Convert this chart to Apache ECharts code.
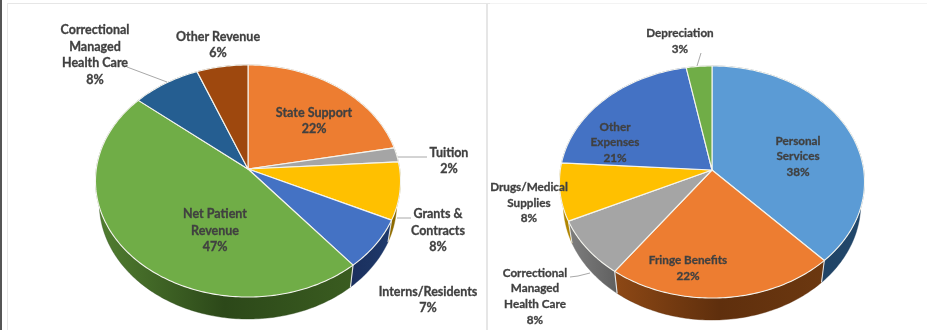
<!DOCTYPE html>
<html>
<head>
<meta charset="utf-8">
<style>html,body{margin:0;padding:0;background:#fff}#chart{width:927px;height:330px}</style>
<script src="https://cdn.jsdelivr.net/npm/echarts@6/dist/echarts.min.js"></script>
</head>
<body>
<div id="chart"></div>
<script>
// Revenue sources (percent of total), clockwise from twelve o'clock
const revenueNames = ['State Support', 'Tuition', 'Grants &\nContracts', 'Interns/Residents', 'Net Patient\nRevenue', 'Correctional\nManaged\nHealth Care', 'Other Revenue'];
const revenueValues = [22, 2, 8, 7, 47, 8, 6];

// Expense categories (percent of total), clockwise from twelve o'clock
const expenseNames = ['Personal\nServices', 'Fringe Benefits', 'Correctional\nManaged\nHealth Care', 'Drugs/Medical\nSupplies', 'Other\nExpenses', 'Depreciation'];
const expenseValues = [38, 22, 8, 8, 21, 3];

const FONT = 'Lato, "Open Sans", sans-serif';

// Tilted disc: radii in the disc plane, perspective strength and wall height
const discShape = { rx: 151.7, ry: 114.8, k: 0.1034, depth: 22, shrink: 0.975 };

function rimPoint(disc, share, lower) {
  const a = share * Math.PI * 2;
  const u = Math.sin(a), v = -Math.cos(a), w = 1 - disc.k * v;
  return [
    disc.cx + disc.rx * u / w * (lower ? disc.shrink : 1),
    disc.cy + disc.ry * v / w + (lower ? disc.depth : 0)
  ];
}

function rimArc(disc, from, to, lower) {
  const n = Math.max(2, Math.ceil((to - from) * 360));
  const pts = [];
  for (let i = 0; i <= n; i++) pts.push(rimPoint(disc, from + (to - from) * i / n, lower));
  return pts;
}

function shareBounds(values) {
  const total = values.reduce((a, b) => a + b, 0);
  let run = 0;
  return values.map(v => { const s = run / total; run += v; return [s, run / total]; });
}

function buildPie(cfg) {
  const disc = Object.assign({}, discShape, cfg.hub);
  const bounds = shareBounds(cfg.values);
  const rows = cfg.values.map(v => [v]);

  const walls = {
    type: 'custom', coordinateSystem: 'none', silent: true, animation: false, z: 2,
    data: rows,
    renderItem(params, api) {
      const [a, b] = bounds[params.dataIndex];
      const up = rimArc(disc, a, b, false);
      const down = rimArc(disc, a, b, true).reverse();
      const xs = up.concat(down).map(p => p[0]);
      const tone = cfg.wallTones[params.dataIndex];
      const fill = {
        type: 'linear', global: true,
        x: Math.min.apply(null, xs), y: 0, x2: Math.max.apply(null, xs), y2: 0,
        colorStops: [{ offset: 0, color: tone[0] }, { offset: 0.5, color: tone[1] }, { offset: 1, color: tone[2] }]
      };
      const edge = [rimPoint(disc, a, false), rimPoint(disc, a, true)];
      return {
        type: 'group',
        children: [
          { type: 'polygon', shape: { points: up.concat(down) }, style: { fill: fill, stroke: tone[1], lineWidth: 0.4 } },
          { type: 'polyline', z2: 10, shape: { points: edge }, style: { fill: 'none', stroke: '#e4e4e4', lineWidth: 1.1 } }
        ]
      };
    }
  };

  const faces = {
    type: 'custom', coordinateSystem: 'none', silent: true, animation: false, z: 3,
    data: rows,
    renderItem(params, api) {
      const [a, b] = bounds[params.dataIndex];
      const pts = [[disc.cx, disc.cy]].concat(rimArc(disc, a, b, false));
      return {
        type: 'polygon',
        shape: { points: pts },
        style: { fill: cfg.colors[params.dataIndex], stroke: '#f4f4ee', lineWidth: 1.1, lineJoin: 'round' }
      };
    }
  };

  const labels = {
    type: 'custom', coordinateSystem: 'none', silent: true, animation: false, z: 5,
    data: rows,
    renderItem(params, api) {
      const i = params.dataIndex;
      const spot = cfg.labelSpots[i];
      const children = [];
      if (cfg.leaders[i]) {
        children.push({
          type: 'polyline',
          shape: { points: cfg.leaders[i] },
          style: { fill: 'none', stroke: '#a8a8a8', lineWidth: 1 }
        });
      }
      children.push({
        type: 'text',
        style: {
          x: spot[0], y: spot[1],
          text: cfg.names[i] + '\n' + api.value(0) + '%',
          textAlign: 'center', textVerticalAlign: 'middle',
          font: 'bold ' + cfg.fontSize + 'px ' + FONT,
          lineHeight: cfg.lineHeight,
          fill: '#404040',
          stroke: '#404040',
          lineWidth: 0.3
        }
      });
      return { type: 'group', children: children };
    }
  };

  return [walls, faces, labels];
}

const revenuePie = buildPie({
  hub: { cx: 248, cy: 169 },
  names: revenueNames,
  values: revenueValues,
  colors: ['#ED7D31', '#A5A5A5', '#FFC000', '#4472C4', '#70AD47', '#255E91', '#9E480E'],
  wallTones: [
    ['#8a4a1d', '#8a4a1d', '#8a4a1d'], ['#6b6b6b', '#6b6b6b', '#6b6b6b'],
    ['#9a7400', '#8a6800', '#7a5c00'], ['#1a2f5e', '#1c3463', '#1f3a6e'],
    ['#527f31', '#2c4819', '#3a5c20'], ['#16385a', '#16385a', '#16385a'],
    ['#5f2b08', '#5f2b08', '#5f2b08']
  ],
  labelSpots: [[314, 121], [449, 161], [438, 230.5], [428, 300], [215, 230.5], [95, 55], [218, 45]],
  leaders: [null, [[398, 157], [427, 157]], [[397, 218], [411, 218]], null, null, [[127, 67], [167, 82]], null],
  fontSize: 12.5,
  lineHeight: 16.5
});

const expensePie = buildPie({
  hub: { cx: 712, cy: 170 },
  names: expenseNames,
  values: expenseValues,
  colors: ['#5B9BD5', '#ED7D31', '#A5A5A5', '#FFC000', '#4472C4', '#70AD47'],
  wallTones: [
    ['#1f3a56', '#1f3f5f', '#22486c'], ['#8d4815', '#5f2f0d', '#6c3810'],
    ['#7e7e7e', '#6f6f6f', '#606060'], ['#b08500', '#b08500', '#b08500'],
    ['#2a4476', '#2a4476', '#2a4476'], ['#43682b', '#43682b', '#43682b']
  ],
  labelSpots: [[798, 156.5], [688, 268.5], [535, 296.5], [529, 203], [615, 142.5], [680, 41]],
  leaders: [null, null, [[570, 277], [578, 276], [590, 273]], null, null, [[697, 66], [701, 53]]],
  fontSize: 11.7,
  lineHeight: 15.6
});

// Thin page frame around the two chart panels
const frame = [
  { type: 'rect', shape: { x: 0, y: 0, width: 2, height: 330 }, style: { fill: '#555555' } },
  { type: 'rect', shape: { x: 7, y: 3, width: 483, height: 1 }, style: { fill: '#e6e6e6' } },
  { type: 'rect', shape: { x: 490, y: 3, width: 437, height: 1 }, style: { fill: '#f3f3f3' } },
  { type: 'rect', shape: { x: 7, y: 3, width: 1, height: 327 }, style: { fill: '#e8e8e8' } },
  { type: 'rect', shape: { x: 486, y: 3, width: 2, height: 327 }, style: { fill: '#e6e6e6' } }
];

const chart = echarts.init(document.getElementById('chart'), null, { renderer: 'canvas' });
chart.setOption({
  backgroundColor: '#ffffff',
  animation: false,
  graphic: { elements: frame },
  series: revenuePie.concat(expensePie)
});
</script>
</body>
</html>
